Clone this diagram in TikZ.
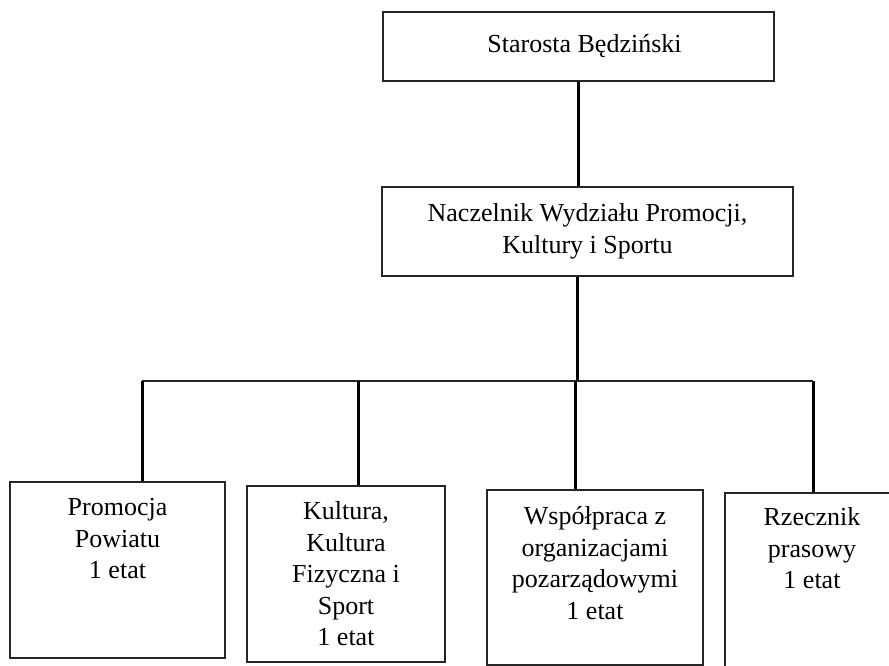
\documentclass[tikz,border=0pt]{standalone}
\usepackage{fontspec}
\setmainfont{Liberation Serif}
\begin{document}
\begin{tikzpicture}[x=1pt,y=-1pt,
  box/.style={draw=black!85,line width=1.4pt,rectangle,inner sep=0pt},
  lbl/.style={anchor=north,align=center,inner sep=0pt,font=\fontsize{26}{31.5}\selectfont},
  vline/.style={draw=black,line width=3pt},
  hline/.style={draw=black!85,line width=1.6pt}]
\useasboundingbox (0,0) rectangle (889,666);
\clip (0,0) rectangle (889,666);
\fill[white] (0,0) rectangle (889,666);
% top boxes
\node[box,minimum width=391pt,minimum height=69pt,font=\fontsize{26}{31.5}\selectfont] (top) at (578.5,46.5) {\hspace*{12pt}Starosta Będziński};
\node[box,minimum width=411pt,minimum height=89pt,align=center,font=\fontsize{26}{32}\selectfont] (mid) at (587.5,231.5) {Naczelnik Wydziału Promocji,\\Kultury i Sportu};
% bottom boxes
\node[box,minimum width=215pt,minimum height=176pt] (b1) at (117.5,570) {};
\node[box,minimum width=198pt,minimum height=176pt] (b2) at (346,574) {};
\node[box,minimum width=216pt,minimum height=175pt] (b3) at (595,577.5) {};
\node[box,minimum width=174pt,minimum height=177pt] (b4) at (812,581.5) {};
\node[lbl] (t1) at ([yshift=-17pt]b1.north) {Promocja\\Powiatu\\1 etat};
\node[lbl] (t2) at ([yshift=-16pt]b2.north) {Kultura,\\Kultura\\Fizyczna i\\Sport\\1 etat};
\node[lbl] (t3) at ([yshift=-17pt]b3.north) {Współpraca z\\organizacjami\\pozarządowymi\\1 etat};
\node[lbl] (t4) at ([yshift=-15pt]b4.north) {Rzecznik\\prasowy\\1 etat};
% connectors
\coordinate (j) at (577,381);
\coordinate (d1) at (142,381);
\coordinate (d2) at (358,381);
\coordinate (d3) at (575,381);
\coordinate (d4) at (813,381);
\draw[vline] (top.south) -- (top.south |- mid.north);
\draw[vline] (j |- mid.south) -- (j);
\draw[hline] (d1) -- (d4);
\draw[vline] (d1) -- (d1 |- b1.north);
\draw[vline] (d2) -- (d2 |- b2.north);
\draw[vline] (d3) -- (d3 |- b3.north);
\draw[vline] (d4) -- (d4 |- b4.north);
\end{tikzpicture}
\end{document}
